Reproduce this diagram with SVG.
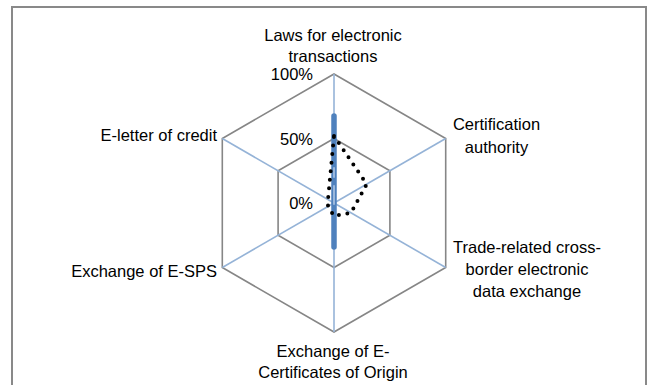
<svg xmlns="http://www.w3.org/2000/svg" width="650" height="385" viewBox="0 0 650 385">
<style>
.lbl{font-family:"Liberation Sans",Arial,sans-serif;font-size:16.5px;fill:#000}
.mid{text-anchor:middle}
.end{text-anchor:end}
.grid{fill:none;stroke:#868686;stroke-width:1.6}
.spoke{stroke:#95b3d7;stroke-width:1.6}
</style>
<rect x="0" y="0" width="650" height="385" fill="#fff"/>
<rect id="frame" x="12" y="7" width="634" height="390" fill="#fff" stroke="#898989" stroke-width="2"/>
<g id="gridlines">
<polygon class="grid" points="334,74 445.7,138.5 445.7,267.5 334,332 222.3,267.5 222.3,138.5"/>
<polygon class="grid" points="334,138.5 389.9,170.75 389.9,235.25 334,267.5 278.1,235.25 278.1,170.75"/>
</g>
<g id="connectors">
<line class="spoke" x1="334" y1="203" x2="334" y2="74"/>
<line class="spoke" x1="334" y1="203" x2="445.7" y2="138.5"/>
<line class="spoke" x1="334" y1="203" x2="445.7" y2="267.5"/>
<line class="spoke" x1="334" y1="203" x2="334" y2="332"/>
<line class="spoke" x1="334" y1="203" x2="222.3" y2="267.5"/>
<line class="spoke" x1="334" y1="203" x2="222.3" y2="138.5"/>
</g>
<g id="series-blue">
<line x1="334" y1="116" x2="334" y2="247" stroke="#4f81bd" stroke-width="5.5" stroke-linecap="round"/>
<line x1="334" y1="168" x2="334" y2="177" stroke="#9bb8dc" stroke-width="2" stroke-linecap="round"/>
<line x1="334" y1="186" x2="334" y2="204" stroke="#9bb8dc" stroke-width="2" stroke-linecap="round"/>
</g>
<g id="series-dotted">
<polygon points="334,136 366.7,184.1 351,212.8 334,216 328,206.5 328,199.5" fill="none" stroke="#000" stroke-width="4" stroke-linecap="round" stroke-dasharray="0 8.6"/>
</g>
<g id="axis-labels" class="lbl end">
<text x="313" y="80">100%</text>
<text x="313" y="145">50%</text>
<text x="313" y="209">0%</text>
</g>
<g id="node-laws" class="lbl mid">
<text x="333" y="41">Laws for electronic</text>
<text x="333" y="62">transactions</text>
</g>
<g id="node-cert" class="lbl mid">
<text x="496.5" y="130">Certification</text>
<text x="496.5" y="153">authority</text>
</g>
<g id="node-trade" class="lbl mid">
<text x="527" y="253">Trade-related cross-</text>
<text x="527" y="275">border electronic</text>
<text x="527" y="297">data exchange</text>
</g>
<g id="node-eco" class="lbl mid">
<text x="333" y="357">Exchange of E-</text>
<text x="333" y="378">Certificates of Origin</text>
</g>
<g id="node-esps" class="lbl end">
<text x="217" y="277">Exchange of E-SPS</text>
</g>
<g id="node-eletter" class="lbl end">
<text x="217" y="141">E-letter of credit</text>
</g>
</svg>
